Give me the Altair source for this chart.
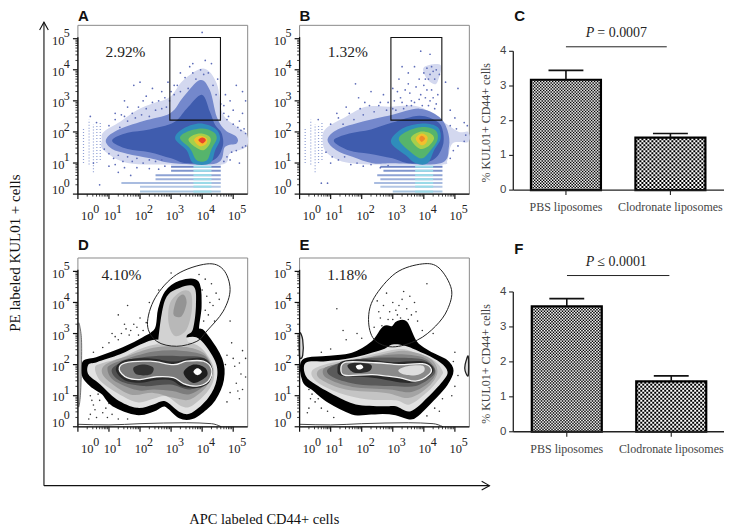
import altair as alt
import numpy as np
import pandas as pd

SERIF = "Liberation Serif"
SANS = "Liberation Sans"
FLOW_W, FLOW_W2, FLOW_H = 178, 170, 169
X_DOM = [0, 5.723]
X_DOM2 = [0, 5.466]
Y_DOM = [0, 5.43]

decades = [0, 1, 2, 3, 4, 5]
x_label_pos = [0.30, 1.03, 2.03, 3.03, 4.03, 5.03]
y_label_pos = [0.13, 0.95, 1.93, 2.93, 3.93, 4.93]
minor = [k + m for k in range(0, 5) for m in [0.30, 0.48, 0.60, 0.70, 0.78, 0.85, 0.90, 0.95]]

# ---------- panel A ----------
A_cloud = [(.77,1.74),(.83,2.00),(1.36,2.33),(1.90,2.70),(2.43,2.92),(2.97,3.13),(3.40,3.67),(4.04,4.04),(4.47,3.56),(4.66,2.59),(5.11,2.17),(5.43,1.95),(5.43,1.52),(4.90,1.31),(4.63,.95),(3.0,.95),(1.6,1.0),(.83,1.41)]
A_med = [(.90,1.74),(1.25,2.05),(2.11,2.35),(2.97,2.6),(3.40,3.13),(3.93,3.67),(4.25,3.34),(4.47,2.49),(4.74,2.06),(5.11,1.84),(5.11,1.63),(4.74,1.52),(4.47,.99),(3.08,.99),(2.33,1.15),(1.58,1.3),(1.1,1.45)]
A_deep = [(1.1,1.72),(1.6,1.97),(2.3,2.08),(3.08,2.3),(3.50,2.75),(3.99,3.2),(4.25,2.65),(4.42,2.22),(4.63,1.95),(4.66,1.52),(4.36,1.09),(3.50,.99),(3.0,1.15),(2.3,1.35),(1.6,1.45)]
A_teal = [(3.13,1.79),(3.40,2.11),(3.93,2.27),(4.42,2.11),(4.58,1.79),(4.42,1.41),(4.25,.99),(3.72,.99),(3.50,1.41)]
A_green = [(3.29,1.79),(3.50,2.00),(3.99,2.11),(4.36,2.00),(4.47,1.79),(4.31,1.47),(4.15,1.09),(3.83,1.09),(3.61,1.47)]
A_lime = [(3.56,1.74),(3.72,1.90),(3.99,1.95),(4.25,1.84),(4.25,1.63),(4.04,1.41),(3.77,1.52)]
A_yellow = [(3.74,1.74),(3.93,1.88),(4.15,1.79),(4.13,1.61),(3.93,1.54)]
A_red = [(3.88,1.74),(4.01,1.82),(4.12,1.74),(4.01,1.63)]
A_dots = [(4.0,5.2),(4.1,4.3),(3.7,4.2),(2.0,3.6),(1.8,3.5),(1.5,3.0),(1.2,2.6),(.6,2.3),(.4,2.5),(2.4,3.4),(2.7,3.3),(3.1,3.5),(3.3,3.9),(3.6,4.1),(4.3,4.2),(4.5,3.7),(5.1,3.5),(5.3,3.3),(4.9,3.0),(5.0,2.7),(5.3,2.6),(5.4,3.0),(4.8,2.4),(5.2,1.0),(4.9,1.1),(.7,.3),(.5,1.0),(1.0,.9),(1.3,.7),(1.7,.6),(1.6,2.8),(2.1,3.0),(2.9,3.6),(3.0,3.3),(2.2,3.15),(1.4,2.55),(4.75,3.2),(4.7,2.85),(5.2,2.35),(5.35,2.1),
          (1.0,2.2),(1.2,2.4),(1.35,2.15),(1.5,2.5),(1.6,2.35),(1.75,2.6),(1.85,2.45),(1.95,2.8),(2.05,2.55),(2.2,2.75),(2.3,2.5),(2.4,2.95),(2.5,2.7),(2.6,3.0),(2.7,2.75),(2.8,3.1),(2.85,2.8),(2.95,3.0),(3.1,3.2),(3.2,3.5),(3.3,3.3),(3.45,3.75),(3.55,3.4),(3.7,3.9),(3.8,3.7),(3.95,4.0),(4.05,3.85),(4.2,3.9),(4.35,3.5),(4.45,3.2),(4.6,2.9),(4.7,2.6),(4.85,2.5),(5.0,2.25),(5.15,2.15),(5.25,2.05),(5.4,1.95),
          (.85,1.45),(1.0,1.3),(1.15,1.15),(1.3,1.25),(1.45,1.05),(1.6,1.2),(1.75,1.05),(1.9,1.15),(2.1,1.0),(2.3,1.1),(2.5,1.05),(2.7,1.1),(1.2,.95),(1.5,.85),(1.9,.85),(2.3,.82),(2.6,.8),(2.8,.9),(4.8,1.2),(4.95,1.35),(5.1,1.4),(5.3,1.5),(5.4,1.55),(4.7,1.05)]
A_gate = (2.96, 4.59, 2.38, 5.04)

# ---------- panel B ----------
B_cloud = [(.74,1.74),(.85,2.11),(1.49,2.49),(2.13,2.81),(2.88,2.81),(3.85,2.81),(4.71,2.27),(5.13,2.00),(5.43,2.00),(5.43,1.68),(4.92,1.63),(4.76,1.09),(4.58,.95),(3.0,.95),(1.6,1.0),(.90,1.31)]
B_med = [(.90,1.74),(1.17,2.05),(1.92,2.3),(2.99,2.55),(3.85,2.75),(4.49,2.49),(4.76,2.06),(4.81,1.52),(4.54,.99),(2.99,.99),(2.35,.99),(1.70,1.2),(1.17,1.42)]
B_deep = [(1.1,1.72),(1.6,1.95),(2.3,2.08),(2.99,2.3),(3.85,2.52),(4.44,2.33),(4.62,2.00),(4.60,1.52),(4.28,1.09),(3.53,.99),(2.99,1.15),(2.24,1.3),(1.6,1.4)]
B_teal = [(2.94,1.68),(3.31,2.11),(3.95,2.27),(4.44,2.16),(4.54,1.79),(4.33,1.41),(4.12,.99),(3.74,.99),(3.42,1.25)]
B_green = [(3.20,1.74),(3.42,2.00),(3.95,2.16),(4.38,2.05),(4.44,1.74),(4.22,1.41),(3.95,1.15),(3.63,1.31)]
B_lime = [(3.58,1.79),(3.85,2.00),(4.17,1.97),(4.33,1.79),(4.12,1.52),(3.85,1.47)]
B_yellow = [(3.74,1.79),(3.93,1.95),(4.12,1.84),(4.06,1.63),(3.90,1.58)]
B_orange = [(3.85,1.79),(3.93,1.88),(4.04,1.79),(3.93,1.68)]
B_upper = [(4.01,4.09),(4.54,4.15),(4.44,3.61),(4.28,3.56),(4.06,3.77)]
B_dots = [(3.9,4.6),(4.2,4.5),(3.5,3.9),(3.2,3.7),(3.0,3.4),(2.7,3.2),(2.3,3.3),(1.8,3.55),(1.9,3.1),(1.5,2.8),(1.2,2.6),(.6,2.4),(2.1,2.95),(2.6,2.95),(3.3,4.1),(3.7,4.1),(4.0,3.9),(4.7,3.6),(5.1,3.4),(4.85,2.7),(5.0,2.45),(5.3,2.3),(5.4,2.2),(3.4,3.35),(3.6,3.0),(3.9,3.2),(4.1,3.35),(3.3,2.95),(4.3,3.1),(.7,.35),(1.0,1.0),(.9,.35),(3.05,3.0),(2.85,2.95),
          (3.1,2.7),(3.25,3.1),(3.45,2.85),(3.55,3.25),(3.7,2.95),(3.75,3.45),(3.85,3.05),(4.0,3.5),(4.05,3.1),(4.2,3.0),(4.25,3.35),(4.4,2.9),(4.45,3.2),(4.35,2.75),(4.15,2.85),(3.95,2.85),(3.6,2.85),(3.35,2.75),(3.15,3.3),(3.0,2.75),(3.5,3.55),(3.85,3.7),(4.05,3.7),
          (1.0,2.25),(1.25,2.45),(1.4,2.25),(1.6,2.6),(1.75,2.4),(1.95,2.75),(2.05,2.55),(2.25,2.85),(2.4,2.65),(2.55,2.85),(2.8,2.7),(.85,1.35),(1.05,1.2),(1.25,1.1),(1.45,1.2),(1.65,.95),(1.85,1.0),(2.05,.9),(2.3,.95),(2.6,.85),(2.85,.92),(4.85,1.15),(4.95,1.4),(5.1,1.55),(5.3,1.7),(5.35,1.9),(4.85,2.2),(5.05,2.1),
          (4.1,4.05),(4.25,4.1),(4.4,4.0),(4.2,3.85),(4.35,3.7),(4.5,3.85),(4.15,3.7),(4.3,3.95)]
B_gate = (2.94, 4.58, 2.38, 5.04)

band_y = [.99, .88, .75, .61, .48, .36, .24, .08]
A_band_x1 = [3.0, 3.0, 3.0, 2.5, 2.5, 1.4, 2.0, 2.0]
B_band_x1 = [2.6, 2.6, 2.7, 2.5, 2.6, 2.4, 2.6, 3.0]
band_x2 = [4.6, 4.6, 4.6, 4.6, 4.6, 4.6, 4.6, 4.6]
band_col = ["#6f86c6", "#6f86c6", "#7f95cd", "#8ea3d4", "#9db0da", "#a9bce0", "#b3c6e4", "#a8c6e2"]
cyan_y = [.88, .75, .61, .48, .36, .24, .08]
cyan_x1, cyan_x2 = 3.72, 4.3
column_x = [.18, .36, .50, .61, .72]
column_y1 = [1.0, .95, .7, 1.0, 1.1]
column_y2 = [2.1, 2.4, 2.25, 2.25, 2.3]

# ---------- panel D ----------
D_black = [(.21,2.06),(.21,1.63),(.50,1.31),(.83,1.09),(1.15,.72),(1.90,.45),(2.43,.56),(2.81,.72),(3.29,.34),(3.67,.32),(4.04,.56),(4.36,.88),(4.63,1.52),(4.58,2.17),(4.04,3.02),(3.83,3.13),(3.91,3.88),(3.83,4.63),(3.29,4.63),(2.86,4.31),(2.65,3.77),(2.54,3.13),(2.11,2.81),(1.47,2.49),(.61,2.17)]
D_body = [(.34,2.00),(.34,1.68),(.72,1.36),(1.25,.88),(1.90,.61),(2.43,.72),(2.81,.82),(3.29,.47),(3.67,.45),(4.20,.93),(4.47,1.52),(4.42,2.11),(3.93,2.81),(3.50,2.87),(3.08,2.65),(2.54,2.81),(2.01,2.65),(1.36,2.33),(.61,2.08)]
D_c1 = [(.55,1.9),(.75,1.45),(1.45,.98),(1.95,.78),(2.43,.9),(2.85,.98),(3.3,.68),(3.65,.66),(4.15,1.1),(4.38,1.55),(4.32,2.05),(3.95,2.55),(3.5,2.72),(3.05,2.6),(2.5,2.65),(2.0,2.5),(1.4,2.22),(.8,2.05)]
D_mid = [(.77,1.84),(.93,1.52),(1.68,1.04),(2.43,1.09),(3.08,.93),(3.61,.88),(4.15,1.31),(4.31,1.84),(4.04,2.38),(3.29,2.59),(2.43,2.54),(1.58,2.27),(.99,2.06)]
D_c2 = [(.95,1.86),(1.15,1.5),(1.9,1.18),(2.45,1.2),(3.05,1.15),(3.6,1.05),(4.15,1.4),(4.33,1.84),(4.05,2.3),(3.3,2.45),(2.45,2.42),(1.6,2.2),(1.1,2.02)]
D_dark = [(1.09,1.84),(1.36,1.47),(2.11,1.31),(2.97,1.36),(3.61,1.20),(4.15,1.47),(4.34,1.84),(4.04,2.22),(3.29,2.27),(2.43,2.27),(1.58,2.14)]
D_darker = [(1.22,1.84),(1.5,2.14),(2.33,2.2),(3.08,2.1),(3.6,2.2),(4.1,2.18),(4.33,1.84),(4.22,1.42),(3.83,1.25),(3.35,1.3),(3.0,1.5),(2.5,1.5),(2.0,1.42),(1.5,1.5)]
D_core = [(1.33,1.84),(1.52,2.06),(2.33,2.11),(3.08,2.00),(3.50,2.11),(4.04,2.11),(4.31,1.84),(4.20,1.47),(3.83,1.31),(3.40,1.39),(3.08,1.58),(2.54,1.61),(2.00,1.52),(1.58,1.58)]
D_spot1 = [(1.79,1.90),(2.11,2.00),(2.43,1.90),(2.33,1.68),(1.90,1.68)]
D_spot2 = [(3.40,1.74),(3.72,2.00),(4.09,1.90),(4.15,1.63),(3.72,1.41)]
D_white = [(3.72,1.77),(3.85,1.88),(3.99,1.77),(3.85,1.66)]
D_lobe = [(2.59,2.81),(2.81,4.09),(3.29,4.47),(3.74,4.50),(3.80,3.88),(3.70,3.13),(3.50,2.92),(3.50,2.59),(2.65,2.65)]
D_lobe2 = [(2.92,3.34),(2.97,3.99),(3.34,4.36),(3.63,4.31),(3.67,3.77),(3.50,3.13),(3.13,2.92)]
D_lobe3 = [(3.08,3.61),(3.18,4.09),(3.40,4.25),(3.50,3.99),(3.34,3.56)]
D_ellipse = [(4.15,5.24),(4.68,5.06),(4.90,4.42),(4.68,3.72),(4.15,3.08),(3.83,2.75),(3.18,2.59),(2.54,2.75),(2.24,3.29),(2.49,4.15),(3.18,4.90)]
D_edge = [(.0,3.2),(.1,3.0),(.12,2.3),(.08,1.0),(.0,.8)]
D_dots = [(1.2,2.9),(1.4,3.0),(1.5,3.3),(1.7,3.1),(1.9,3.2),(2.0,3.5),(2.1,3.1),(1.0,2.7),(.8,2.55),(.5,2.4),(1.3,3.6),(1.6,3.9),(2.3,4.0),(2.6,4.4),(3.0,4.95),(3.9,4.9),(4.1,4.75),(4.3,4.6),(4.15,4.2),(4.35,3.9),(4.2,3.6),(4.45,4.3),(4.05,3.4),(4.55,4.1),(4.9,3.4),(4.8,2.3),(4.75,2.0),(5.0,2.2),(5.2,2.05),(5.25,1.7),(5.1,1.4),(4.9,1.1),(5.2,.9),(5.3,1.2),(4.8,.8),(.4,1.0),(.5,.7),(.7,.85),(.9,.6),(1.1,.4),(.4,.4),(.6,.3),(1.3,.25),(1.6,.25),(.35,.25),(.95,.3),(5.4,1.6),(5.4,2.2),
          (1.65,2.95),(1.8,3.3),(1.95,2.95),(1.3,2.8),(1.1,3.0),(1.55,3.15),(2.2,3.35),(4.0,4.4),(4.25,4.0),(4.4,3.4),(4.1,3.75),(4.95,2.7),(5.05,1.95),(5.3,2.45),(5.15,1.15),(.55,.55),(.8,.45),(1.0,.75),(.45,.85),(.65,1.05)]

# ---------- panel E ----------
E_black = [(.12,2.11),(.15,1.47),(.47,1.20),(.95,.82),(1.70,.45),(2.02,.43),(2.67,.47),(3.10,.43),(3.58,.29),(3.85,.45),(4.28,.88),(4.71,1.37),(4.90,1.80),(4.71,2.11),(4.17,2.38),(3.74,2.70),(3.42,3.34),(3.15,3.34),(2.99,3.18),(2.72,3.18),(2.35,2.70),(1.70,2.33),(.85,2.22)]
E_body = [(.20,2.06),(.20,1.63),(.53,1.35),(1.17,.99),(1.81,.72),(2.67,.66),(3.10,.66),(3.58,.50),(4.17,.99),(4.65,1.52),(4.76,1.79),(4.54,2.06),(4.06,2.33),(3.42,2.60),(2.99,2.65),(2.67,2.49),(1.70,2.22),(.85,2.11)]
E_c1 = [(.4,1.8),(.55,1.45),(1.3,1.08),(2.2,.88),(3.1,.85),(3.55,.72),(4.15,1.15),(4.55,1.62),(4.6,1.8),(4.35,2.12),(3.8,2.35),(3.3,2.5),(2.75,2.42),(1.7,2.17),(.9,2.03)]
E_mid = [(.58,1.79),(.69,1.52),(1.49,1.20),(2.78,1.09),(3.53,.93),(4.17,1.31),(4.44,1.79),(4.17,2.22),(3.42,2.44),(2.67,2.33),(1.70,2.11),(.95,1.95)]
E_c2 = [(.75,1.82),(.9,1.55),(1.7,1.28),(2.9,1.2),(3.6,1.12),(4.2,1.45),(4.38,1.82),(4.05,2.2),(3.3,2.33),(2.55,2.28),(1.6,2.12),(1.0,1.97)]
E_dark = [(.90,1.84),(1.11,1.58),(1.92,1.36),(2.99,1.31),(3.74,1.31),(4.28,1.63),(4.33,1.90),(3.95,2.17),(3.20,2.22),(2.45,2.22),(1.49,2.11)]
E_darker = [(1.22,1.84),(1.38,1.63),(2.35,1.58),(3.53,1.41),(4.17,1.63),(4.30,1.90),(3.95,2.11),(2.99,2.08),(2.24,2.16),(1.38,2.11)]
E_core = [(1.33,1.84),(1.49,1.65),(2.35,1.68),(3.20,1.58),(3.74,1.47),(4.17,1.68),(4.22,1.90),(3.95,2.03),(3.20,2.00),(2.45,2.06),(1.49,2.08)]
E_spot1 = [(1.54,1.97),(1.76,1.74),(2.24,1.79),(2.29,2.00),(1.81,2.06)]
E_white = [(1.81,1.95),(1.97,2.00),(2.05,1.90),(1.90,1.84)]
E_light = [(3.18,1.82),(3.47,1.95),(3.95,1.97),(4.01,1.79),(3.74,1.66),(3.37,1.68)]
E_ellipse = [(3.95,5.24),(4.49,5.11),(4.89,4.42),(4.76,3.77),(4.38,3.24),(3.79,2.79),(2.99,2.57),(2.40,2.81),(2.22,3.45),(2.40,4.15),(3.10,4.95)]
E_left = [(.0,3.0),(.1,2.8),(.1,2.3),(.0,2.25)]
E_right = [(5.43,2.27),(5.33,2.0),(5.33,1.8),(5.43,1.65)]
E_dots = [(2.4,3.2),(2.6,3.5),(2.7,3.9),(2.9,3.7),(3.0,4.0),(3.15,3.6),(3.3,4.1),(3.35,4.35),(3.45,3.8),(3.6,3.6),(3.7,4.0),(3.2,3.9),(2.8,4.3),(2.5,4.05),(3.0,3.45),(3.5,3.45),(3.8,3.4),(4.1,4.6),(4.3,3.0),(3.95,3.1),(1.2,3.8),(1.4,3.1),(1.5,2.8),(1.85,3.0),(2.0,2.85),(1.0,2.5),(.7,2.4),(5.0,2.4),(4.95,2.1),(5.0,1.3),(5.1,1.65),(4.9,1.0),(4.6,.9),(4.35,.6),(4.1,.35),(.3,1.2),(.35,.9),(.3,.6),(.5,.8),(.7,.6),(.9,.5),(1.1,.3),(4.5,.5),
          (2.85,3.45),(3.1,3.75),(3.55,4.2),(2.65,3.25),(3.25,3.5),(3.75,3.7),(2.55,3.7),(.4,1.05),(.25,.45),(.6,.9)]

baseline_x = [.0, 1.0, 2.0, 3.5, 4.3, 4.62]
baseline_y = [.08, .06, .10, .13, .10, .0]

# ---------- bar panels ----------
groups = [0, 1]
group_names = ["PBS liposomes", "Clodronate liposomes"]
C_means, C_tops = [3.18, 1.51], [3.45, 1.63]
F_means, F_tops = [3.59, 1.44], [3.81, 1.60]


def enc(xd, yd):
    return (alt.X("x:Q", scale=alt.Scale(domain=xd), axis=None),
            alt.Y("y:Q", scale=alt.Scale(domain=yd), axis=None))


def poly(pts, X, Y, fill=None, stroke=None, sw=0.0, interp="cardinal-closed"):
    df = pd.DataFrame(pts, columns=["x", "y"]).assign(i=lambda d: range(len(d)))
    kw = {"interpolate": interp, "strokeWidth": sw}
    if fill:
        kw["fill"] = fill
    kw["stroke"] = stroke or fill
    return alt.Chart(df).mark_line(**kw).encode(x=X, y=Y, order=alt.Order("i:Q"))


def dots(pts, X, Y, color, size=3):
    df = pd.DataFrame(pts, columns=["x", "y"])
    return alt.Chart(df).mark_circle(size=size, color=color, opacity=1).encode(x=X, y=Y)


def rules_h(ys, x1s, x2s, colors, X, Y, sw=2):
    df = pd.DataFrame({"y": ys, "x": x1s, "x2": x2s, "c": colors})
    return alt.Chart(df).mark_rule(strokeWidth=sw).encode(
        x=X, x2="x2:Q", y=Y, color=alt.Color("c:N", scale=None))


def text_at(x, y, s, X, Y, **kw):
    df = pd.DataFrame({"x": [x], "y": [y], "t": [s]})
    return alt.Chart(df).mark_text(**kw).encode(x=X, y=Y, text="t:N")


def frame_layer(X, Y):
    fr = pd.DataFrame({"x": [0], "x2": [5.466], "y": [0], "y2": [5.43]})
    return alt.Chart(fr).mark_rect(fillOpacity=0, stroke="#8a8a8a", strokeWidth=1).encode(
        x=X, x2="x2:Q", y=Y, y2="y2:Q")


def axis_layers(X, Y, letter, letter_y, pct, pct_xy):
    out = []
    maj = pd.DataFrame({"x": decades, "y": [0] * 6, "y2": [-.16] * 6})
    mnr = pd.DataFrame({"x": minor, "y": [0] * len(minor), "y2": [-.08] * len(minor)})
    majy = pd.DataFrame({"y": decades, "x": [0] * 6, "x2": [-.16] * 6})
    mnry = pd.DataFrame({"y": minor, "x": [0] * len(minor), "x2": [-.08] * len(minor)})
    for df, w in ((maj, 1.2), (mnr, .8)):
        out.append(alt.Chart(df).mark_rule(color="#111", strokeWidth=w).encode(x=X, y=Y, y2="y2:Q"))
    for df, w in ((majy, 1.2), (mnry, .8)):
        out.append(alt.Chart(df).mark_rule(color="#111", strokeWidth=w).encode(y=Y, x=X, x2="x2:Q"))
    out.append(alt.Chart(pd.DataFrame({"x": [0], "x2": [5.466], "y": [0]})).mark_rule(color="#111", strokeWidth=1.3).encode(x=X, x2="x2:Q", y=Y))
    out.append(alt.Chart(pd.DataFrame({"y": [0], "y2": [5.05], "x": [0]})).mark_rule(color="#111", strokeWidth=1.3).encode(y=Y, y2="y2:Q", x=X))
    lx = pd.DataFrame({"x": x_label_pos, "y": [-.72] * 6, "t": ["10"] * 6, "e": [str(d) for d in decades]})
    out.append(alt.Chart(lx).mark_text(font=SERIF, fontSize=12.5, color="#222").encode(x=X, y=Y, text="t:N"))
    out.append(alt.Chart(lx).mark_text(font=SERIF, fontSize=12, color="#222", dx=9, dy=-7.5).encode(x=X, y=Y, text="e:N"))
    ly = pd.DataFrame({"y": y_label_pos, "x": [-.63] * 6, "t": ["10"] * 6, "e": [str(d) for d in decades]})
    out.append(alt.Chart(ly).mark_text(font=SERIF, fontSize=12.5, color="#222").encode(x=X, y=Y, text="t:N"))
    out.append(alt.Chart(ly).mark_text(font=SERIF, fontSize=12, color="#222", dx=8.5, dy=-7.5).encode(x=X, y=Y, text="e:N"))
    out.append(text_at(0, letter_y, letter, X, Y, font=SANS, fontSize=15, fontWeight="bold", align="left", color="#111"))
    out.append(text_at(pct_xy[0], pct_xy[1], pct, X, Y, font=SERIF, fontSize=15.5, align="left", color="#222"))
    return out


def gate(g, X, Y):
    df = pd.DataFrame({"x": [g[0]], "x2": [g[1]], "y": [g[2]], "y2": [g[3]]})
    return alt.Chart(df).mark_rect(fillOpacity=0, stroke="#111", strokeWidth=1.1).encode(x=X, x2="x2:Q", y=Y, y2="y2:Q")


def scatter_panel(xd, w, cloud, med, deep, teal, green, lime, yellow, hot, hot_col, pts, g, band_x1, letter, pct, pct_xy, extra_back=(), extra=()):
    X, Y = enc(xd, Y_DOM)
    L = [frame_layer(X, Y)]
    L.append(rules_h(band_y, band_x1, band_x2, band_col, X, Y))
    L.append(rules_h(cyan_y, [cyan_x1] * len(cyan_y), [cyan_x2] * len(cyan_y), ["#9adbe8"] * len(cyan_y), X, Y))
    cols = pd.DataFrame({"x": column_x, "y": column_y1, "y2": column_y2})
    L.append(alt.Chart(cols).mark_rule(color="#8f9fd4", strokeWidth=1.2, strokeDash=[1, 2]).encode(x=X, y=Y, y2="y2:Q"))
    for p in extra_back:
        L.append(poly(p, X, Y, fill="#d3d8ef"))
    L.append(poly(cloud, X, Y, fill="#d3d8ef"))
    L.append(poly(med, X, Y, fill="#7488cc"))
    L.append(poly(deep, X, Y, fill="#3f5cae"))
    L.append(poly(teal, X, Y, fill="#2f8dbb"))
    L.append(poly(green, X, Y, fill="#56b46c"))
    L.append(poly(lime, X, Y, fill="#a7cf4a"))
    L.append(poly(yellow, X, Y, fill="#f2c02d"))
    L.append(poly(hot, X, Y, fill=hot_col))
    L.append(dots(pts, X, Y, "#5d6cb8"))
    L.append(gate(g, X, Y))
    L += axis_layers(X, Y, letter, 5.72, pct, pct_xy)
    L += list(extra)
    return alt.layer(*L).properties(width=w, height=FLOW_H)


def contour_panel(xd, w, poly_specs, ellipse, pts, letter, pct, pct_xy, extras=()):
    X, Y = enc(xd, Y_DOM)
    L = [frame_layer(X, Y)]
    L.append(dots(pts, X, Y, "#333", size=2.5))
    for spec in poly_specs:
        L.append(poly(spec[0], X, Y, fill=spec[1], stroke=spec[2], sw=spec[3]))
    L.append(poly(ellipse, X, Y, stroke="#222", sw=1.0))
    base = pd.DataFrame({"x": baseline_x, "y": baseline_y, "i": range(len(baseline_x))})
    L.append(alt.Chart(base).mark_line(color="#444", strokeWidth=1, interpolate="monotone").encode(x=X, y=Y, order=alt.Order("i:Q")))
    for p, f, s, sw in extras:
        L.append(poly(p, X, Y, fill=f, stroke=s, sw=sw))
    L += axis_layers(X, Y, letter, 5.85, pct, pct_xy)
    return alt.layer(*L).properties(width=w, height=FLOW_H)


def pattern(top, cx, half, step_v, dash, X, Y, sw):
    rows = np.arange(step_v / 2, top, step_v)
    df = pd.DataFrame({"y": rows, "x": cx - half, "x2": cx + half})
    even, odd = df.iloc[::2], df.iloc[1::2]
    return [
        alt.Chart(even).mark_rule(color="#000", strokeWidth=sw, strokeDash=[dash, dash]).encode(x=X, x2="x2:Q", y=Y),
        alt.Chart(odd).mark_rule(color="#000", strokeWidth=sw, strokeDash=[dash, dash], strokeDashOffset=dash).encode(x=X, x2="x2:Q", y=Y),
    ]


def bar_panel(means, tops, height, y_top, px_unit, letter, letter_y, ptext, rule_v, rule_x, p_v, cx_shift):
    xd = [-0.504, 1.513]
    X, Y = enc(xd, [0, y_top])
    half, cap = .335, .167
    cx = [g + cx_shift for g in groups]
    L = []
    df = pd.DataFrame({"x": [c - half for c in cx], "x2": [c + half for c in cx], "y": [0, 0], "y2": means})
    L.append(alt.Chart(df).mark_rect(color="#ffffff").encode(x=X, x2="x2:Q", y=Y, y2="y2:Q"))
    L += pattern(means[0], cx[0], half, 1.5 / px_unit, 1.5, X, Y, 1.5)
    L += pattern(means[1], cx[1], half, 2 / px_unit, 2, X, Y, 2)
    L.append(alt.Chart(df).mark_rect(fillOpacity=0, stroke="#000", strokeWidth=2.2).encode(x=X, x2="x2:Q", y=Y, y2="y2:Q"))
    e = pd.DataFrame({"x": cx, "y": means, "y2": tops})
    L.append(alt.Chart(e).mark_rule(color="#111", strokeWidth=1.6).encode(x=X, y=Y, y2="y2:Q"))
    c2 = pd.DataFrame({"x": [c - cap for c in cx], "x2": [c + cap for c in cx], "y": tops})
    L.append(alt.Chart(c2).mark_rule(color="#111", strokeWidth=1.6).encode(x=X, x2="x2:Q", y=Y))
    yt = pd.DataFrame({"y": [0, 1, 2, 3, 4], "x": [xd[0]] * 5, "x2": [xd[0] - .04] * 5, "t": ["0", "1", "2", "3", "4"]})
    L.append(alt.Chart(yt).mark_rule(color="#222", strokeWidth=1.1).encode(y=Y, x=X, x2="x2:Q"))
    L.append(alt.Chart(yt).mark_text(font=SANS, fontSize=11.5, color="#444", align="right", dx=-7).encode(y=Y, x=X, text="t:N"))
    L.append(alt.Chart(pd.DataFrame({"x": [xd[0]], "y": [0], "y2": [4]})).mark_rule(color="#222", strokeWidth=1.3).encode(x=X, y=Y, y2="y2:Q"))
    L.append(alt.Chart(pd.DataFrame({"x": [xd[0]], "x2": [xd[1]], "y": [0]})).mark_rule(color="#222", strokeWidth=1.3).encode(x=X, x2="x2:Q", y=Y))
    xt = pd.DataFrame({"x": cx, "y": [0, 0], "y2": [-5 / px_unit] * 2, "t": group_names})
    L.append(alt.Chart(xt).mark_rule(color="#222", strokeWidth=1.1).encode(x=X, y=Y, y2="y2:Q"))
    L.append(alt.Chart(xt).mark_text(font=SERIF, fontSize=12, color="#444", dy=17).encode(x=X, y=Y, text="t:N"))
    L.append(text_at(-.77, 1.94, "% KUL01+ CD44+ cells", X, Y, font=SERIF, fontSize=12, color="#444", angle=270))
    L.append(text_at(-.494, letter_y, letter, X, Y, font=SANS, fontSize=15, fontWeight="bold", align="left", color="#111"))
    L.append(text_at(.19, p_v, "P", X, Y, font=SERIF, fontSize=14, fontStyle="italic", align="left", color="#222"))
    L.append(text_at(.30, p_v, ptext, X, Y, font=SERIF, fontSize=14, align="left", color="#222"))
    rr = pd.DataFrame({"x": [rule_x[0]], "x2": [rule_x[1]], "y": [rule_v]})
    L.append(alt.Chart(rr).mark_rule(color="#222", strokeWidth=1).encode(x=X, x2="x2:Q", y=Y))
    return alt.layer(*L).properties(width=211, height=height)


def figure_annotations(xd):
    X, Y = enc(xd, Y_DOM)
    out = []
    v = pd.DataFrame({"x": [-1.093, -1.093], "y": [-9.38, 5.53], "i": [0, 1]})
    h = pd.DataFrame({"x": [-1.093, 13.25], "y": [-9.38, -9.38], "i": [0, 1]})
    vh = pd.DataFrame({"x": [-1.233, -1.093, -.953], "y": [5.28, 5.53, 5.28], "i": [0, 1, 2]})
    hh = pd.DataFrame({"x": [13.0, 13.25, 13.0], "y": [-9.24, -9.38, -9.52], "i": [0, 1, 2]})
    for df in (v, h, vh, hh):
        out.append(alt.Chart(df).mark_line(color="#111", strokeWidth=1.1).encode(x=X, y=Y, order=alt.Order("i:Q")))
    out.append(text_at(-2.014, -1.9, "PE labeled KUL01 + cells", X, Y, font=SERIF, fontSize=15, angle=270, color="#111"))
    out.append(text_at(6.0, -10.47, "APC labeled CD44+ cells", X, Y, font=SERIF, fontSize=14.5, color="#111"))
    return out


panel_A = scatter_panel(X_DOM, FLOW_W, A_cloud, A_med, A_deep, A_teal, A_green, A_lime, A_yellow, A_red, "#e8452a",
                        A_dots, A_gate, A_band_x1, "A", "2.92%", (.89, 4.57), extra=figure_annotations(X_DOM))
panel_B = scatter_panel(X_DOM2, FLOW_W2, B_cloud, B_med, B_deep, B_teal, B_green, B_lime, B_yellow, B_orange, "#ee8a2a",
                        B_dots, B_gate, B_band_x1, "B", "1.32%", (.91, 4.57), extra_back=(B_upper,))

D_specs = [
    (D_black, "#000000", "#000000", 4.5),
    (D_body, "#e2e2e2", None, 0),
    (D_c1, "#c0c0c0", None, 0),
    (D_mid, "#9e9e9e", None, 0),
    (D_c2, "#7c7c7c", None, 0),
    (D_dark, "#505050", None, 0),
    (D_darker, "#2a2a2a", None, 0),
    (D_lobe, "#d2d2d2", None, 0),
    (D_lobe2, "#b8b8b8", None, 0),
    (D_lobe3, "#949494", None, 0),
    (D_core, "#7a7a7a", "#f4f4f4", 1.3),
    (D_spot1, "#333333", None, 0),
    (D_spot2, "#1e1e1e", None, 0),
    (D_white, "#ffffff", None, 0),
]
E_specs = [
    (E_black, "#000000", "#000000", 3.5),
    (E_body, "#e2e2e2", None, 0),
    (E_c1, "#c4c4c4", None, 0),
    (E_mid, "#a4a4a4", None, 0),
    (E_c2, "#848484", None, 0),
    (E_dark, "#5a5a5a", None, 0),
    (E_darker, "#2a2a2a", None, 0),
    (E_core, "#8a8a8a", "#f4f4f4", 1.3),
    (E_spot1, "#2a2a2a", None, 0),
    (E_white, "#ffffff", None, 0),
    (E_light, "#dddddd", None, 0),
]
panel_D = contour_panel(X_DOM, FLOW_W, D_specs, D_ellipse, D_dots, "D", "4.10%", (.76, 4.88),
                        extras=[(D_edge, "#bdbdbd", "#555555", .8)])
panel_E = contour_panel(X_DOM2, FLOW_W2, E_specs, E_ellipse, E_dots, "E", "1.18%", (.89, 4.88),
                        extras=[(E_left, "#dddddd", "#222222", 1.3), (E_right, "#dddddd", "#222222", 1.3)])

panel_C = bar_panel(C_means, C_tops, 165, 165 / 34.75, 34.75, "C", 5.01, "= 0.0007", 4.13, (0, .965), 4.52, 0)
panel_F = bar_panel(F_means, F_tops, 174, 174 / 35, 35, "F", 5.23, "≤ 0.0001", 4.47, (.01, .99), 4.86, .008)

chart = alt.concat(panel_A, panel_B, panel_C, panel_D, panel_E, panel_F, columns=3,
                   spacing={"row": 64, "column": 44}, bounds="flush").properties(
    padding=0, background="white").configure_view(stroke=None)

chart.save("out.html", embed_options={"renderer": "svg", "actions": False})
